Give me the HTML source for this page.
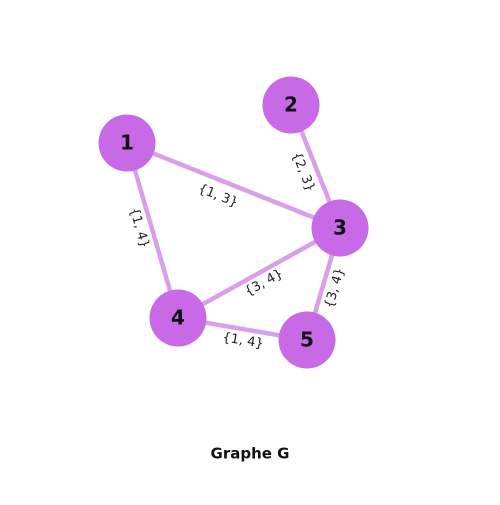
<!DOCTYPE html>
<html><head><meta charset="utf-8"><style>
body{margin:0;background:#fff;}
svg text{font-family:"DejaVu Sans","Liberation Sans",sans-serif;}
</style></head><body>
<svg id="chart" width="500" height="500" viewBox="0 0 500 500"></svg>
<script>
const nodeIds=["1","2","3","4","5"];
const nodeX=[127,291,340,178,307];
const nodeY=[143,105,228,318,340];
const edgeFrom=["1","2","1","4","3","4"];
const edgeTo=["3","3","4","3","5","5"];
const edgeLabels=["{1, 3}","{2, 3}","{1, 4}","{3, 4}","{3, 4}","{1, 4}"];
const labelX=[218,303,139,264,335,243];
const labelY=[196,172,228,283,288,341];
const NS="http://www.w3.org/2000/svg";
const svg=document.getElementById('chart');
function mk(t,a){const e=document.createElementNS(NS,t);for(const k in a)e.setAttribute(k,a[k]);return e;}
function pos(id){const i=nodeIds.indexOf(id);return [nodeX[i],nodeY[i]];}
edgeFrom.forEach((f,i)=>{
  const [x1,y1]=pos(f),[x2,y2]=pos(edgeTo[i]);
  const l=mk('line',{x1,y1,x2,y2,stroke:'#d99fea','stroke-width':4.5});
  
  
  svg.appendChild(l);
});
edgeFrom.forEach((f,i)=>{
  const [x1,y1]=pos(f),[x2,y2]=pos(edgeTo[i]);
  let a=Math.atan2(y2-y1,x2-x1)*180/Math.PI;
  if(a>90)a-=180; if(a<-90)a+=180;
  const t=mk('text',{x:labelX[i],y:labelY[i],'text-anchor':'middle','dominant-baseline':'middle','font-size':13,'font-style':'normal',fill:'#222',transform:`rotate(${a} ${labelX[i]} ${labelY[i]})`});
  t.textContent=edgeLabels[i];
  
  
  svg.appendChild(t);
});
nodeIds.forEach((id,i)=>{
  const c=mk('circle',{cx:nodeX[i],cy:nodeY[i],r:28.5,fill:'#c86ae6'});
  
  
  svg.appendChild(c);
  const t=mk('text',{x:nodeX[i],y:nodeY[i]+1,'text-anchor':'middle','dominant-baseline':'middle','font-size':20,'font-weight':'bold',fill:'#111'});
  t.textContent=id;
  
  
  svg.appendChild(t);
});
const title=mk('text',{x:250,y:454,'text-anchor':'middle','dominant-baseline':'middle','font-size':15,'font-weight':'bold',fill:'#111'});
title.textContent='Graphe G';


svg.appendChild(title);
</script>
</body></html>
